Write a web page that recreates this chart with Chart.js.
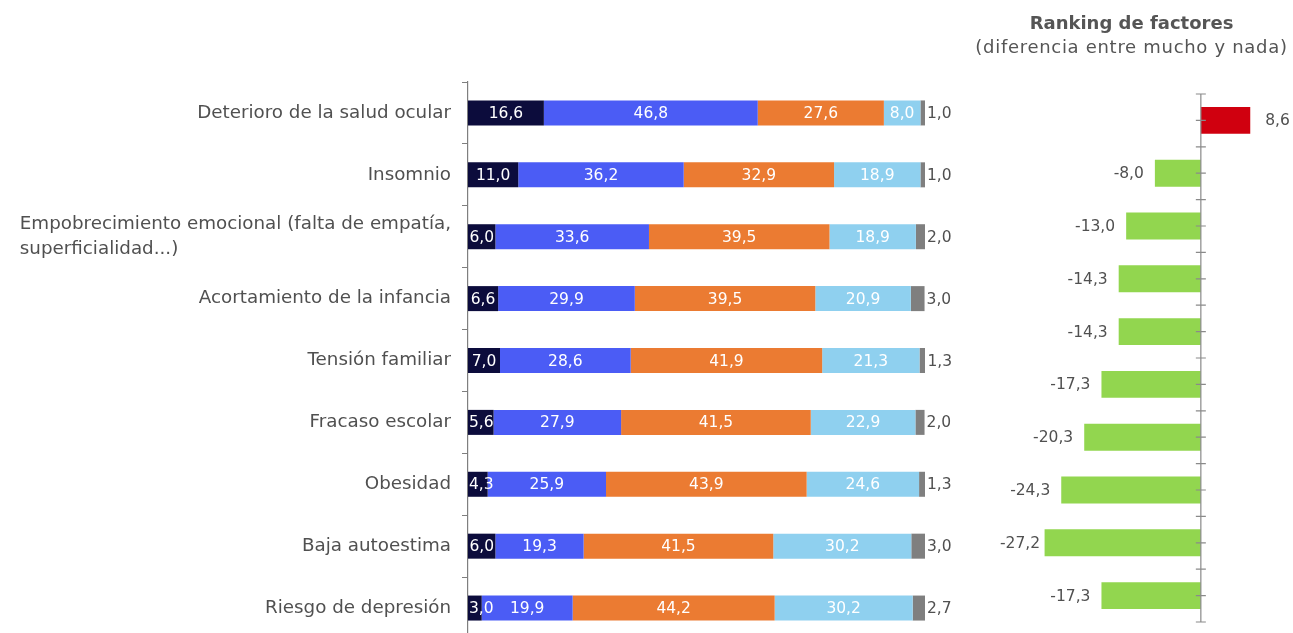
<!DOCTYPE html>
<html>
<head>
<meta charset="utf-8">
<script src="https://cdn.jsdelivr.net/npm/chart.js@4/dist/chart.umd.min.js"></script>
<style>
  html, body { margin: 0; padding: 0; background: #fff; width: 1293px; height: 633px; overflow: hidden; }
  canvas { position: absolute; top: 0; }
  #left { left: 0; }
  #right { left: 970px; }
</style>
</head>
<body>
<canvas id="left" width="960" height="650"></canvas>
<canvas id="right" width="323" height="633"></canvas>
<script>
// Factors (a nested array is a two-line label)
const categories = [
  'Deterioro de la salud ocular',
  'Insomnio',
  ['Empobrecimiento emocional (falta de empatía,', 'superficialidad...)'],
  'Acortamiento de la infancia',
  'Tensión familiar',
  'Fracaso escolar',
  'Obesidad',
  'Baja autoestima',
  'Riesgo de depresión'
];

// Share of answers per factor (%)
const mucho    = [16.6, 11.0, 6.0, 6.6, 7.0, 5.6, 4.3, 6.0, 3.0];
const bastante = [46.8, 36.2, 33.6, 29.9, 28.6, 27.9, 25.9, 19.3, 19.9];
const poco     = [27.6, 32.9, 39.5, 39.5, 41.9, 41.5, 43.9, 41.5, 44.2];
const nada     = [8.0, 18.9, 18.9, 20.9, 21.3, 22.9, 24.6, 30.2, 30.2];
const nsnc     = [1.0, 1.0, 2.0, 3.0, 1.3, 2.0, 1.3, 3.0, 2.7];

// Ranking: difference between "mucho" and "nada"
const rankingLabels = ['1', '2', '3', '4', '5', '6', '7', '8', '9', '10'];
const ranking = [8.6, -8.0, -13.0, -14.3, -14.3, -17.3, -20.3, -24.3, -27.2, -17.3];

const rankingTitle = 'Ranking de factores';
const rankingSubtitle = '(diferencia entre mucho y nada)';

const FONT = '"DejaVu Sans", "Open Sans", sans-serif';
const TEXT = '#505050';
const fmt = v => v.toFixed(1).replace('.', ',');

// Category names right-aligned as a block, lines left-aligned inside it
const categoryLabels = {
  id: 'categoryLabels',
  afterDraw(chart) {
    const ctx = chart.ctx, y = chart.scales.y;
    ctx.save();
    ctx.font = '18.3px ' + FONT;
    ctx.fillStyle = TEXT;
    ctx.textBaseline = 'middle';
    ctx.textAlign = 'left';
    const edge = chart.chartArea.left - 17;
    categories.forEach((c, i) => {
      const lines = Array.isArray(c) ? c : [c];
      const w = Math.max(...lines.map(l => ctx.measureText(l).width));
      const yc = y.getPixelForValue(i);
      const lh = 25;
      lines.forEach((l, k) => ctx.fillText(l, edge - w, yc + (k - (lines.length - 1) / 2) * lh));
    });
    ctx.restore();
  }
};

// Values inside each segment; last segment labelled outside the bar
const segmentLabels = {
  id: 'segmentLabels',
  afterDatasetsDraw(chart) {
    const ctx = chart.ctx;
    const last = chart.data.datasets.length - 1;
    ctx.save();
    ctx.font = '15.5px ' + FONT;
    ctx.textBaseline = 'middle';
    chart.data.datasets.forEach((ds, di) => {
      chart.getDatasetMeta(di).data.forEach((bar, i) => {
        const txt = fmt(ds.data[i]);
        const l = Math.min(bar.x, bar.base), r = Math.max(bar.x, bar.base);
        if (di === last) {
          ctx.fillStyle = TEXT;
          ctx.textAlign = 'left';
          ctx.fillText(txt, r + 2, bar.y + 1);
        } else {
          ctx.fillStyle = '#ffffff';
          ctx.textAlign = 'center';
          const w = ctx.measureText(txt).width;
          const cx = Math.max((l + r) / 2, chart.chartArea.left + w / 2 + 1);
          ctx.fillText(txt, cx, bar.y + 1);
        }
      });
    });
    ctx.restore();
  }
};

new Chart(document.getElementById('left'), {
  type: 'bar',
  data: {
    labels: categories,
    datasets: [
      { label: 'Mucho', data: mucho, backgroundColor: '#0c0c3c' },
      { label: 'Bastante', data: bastante, backgroundColor: '#4b5cf5' },
      { label: 'Poco', data: poco, backgroundColor: '#eb7b32' },
      { label: 'Nada', data: nada, backgroundColor: '#8fd0ef' },
      { label: 'NS/NC', data: nsnc, backgroundColor: '#7f7f7f' }
    ]
  },
  options: {
    indexAxis: 'y',
    responsive: false,
    animation: false,
    datasets: { bar: { barPercentage: 0.404, categoryPercentage: 1, borderWidth: 0 } },
    layout: { padding: { top: 82, bottom: 11, left: 0, right: 35 } },
    plugins: { legend: { display: false }, tooltip: { enabled: false } },
    scales: {
      x: { stacked: true, min: 0, max: 100, display: false },
      y: {
        stacked: true,
        grid: { offset: true, drawOnChartArea: false, tickLength: 6, color: '#7f7f7f', lineWidth: 1 },
        border: { display: true, color: '#7f7f7f', width: 1.2 },
        ticks: { display: false },
        afterFit(scale) { scale.width = 468; }
      }
    }
  },
  plugins: [categoryLabels, segmentLabels]
});

// Two-line heading centred over the ranking canvas
const headings = {
  id: 'headings',
  afterDraw(chart) {
    const ctx = chart.ctx;
    const cx = chart.width / 2;
    ctx.save();
    ctx.fillStyle = '#555555';
    ctx.textAlign = 'center';
    ctx.textBaseline = 'middle';
    ctx.font = 'bold 18px ' + FONT;
    ctx.fillText(rankingTitle, cx, 24);
    ctx.font = '18px ' + FONT;
    if ('letterSpacing' in ctx) ctx.letterSpacing = '0.7px';
    ctx.fillText(rankingSubtitle, cx, 48);
    ctx.restore();
  }
};

// Vertical axis at zero with ticks at row edges and row centres
const rankAxis = {
  id: 'rankAxis',
  afterDatasetsDraw(chart) {
    const ctx = chart.ctx, x = chart.scales.x, y = chart.scales.y;
    const x0 = x.getPixelForValue(0);
    const n = chart.data.labels.length;
    const step = y.getPixelForValue(1) - y.getPixelForValue(0);
    const top = y.getPixelForValue(0) - step / 2;
    ctx.save();
    ctx.strokeStyle = '#8a8a8a';
    ctx.lineWidth = 1.2;
    ctx.beginPath();
    ctx.moveTo(x0, top);
    ctx.lineTo(x0, top + n * step);
    for (let k = 0; k <= 2 * n; k++) {
      const yy = top + k * step / 2;
      ctx.moveTo(x0 - 5, yy);
      ctx.lineTo(x0 + 5, yy);
    }
    ctx.stroke();
    ctx.restore();
  }
};

// Value labels beyond the bar end, kept inside the plot area
const rankLabels = {
  id: 'rankLabels',
  afterDatasetsDraw(chart) {
    const ctx = chart.ctx;
    const ds = chart.data.datasets[0];
    ctx.save();
    ctx.font = '15.5px ' + FONT;
    ctx.fillStyle = TEXT;
    ctx.textBaseline = 'middle';
    chart.getDatasetMeta(0).data.forEach((bar, i) => {
      const v = ds.data[i];
      const txt = fmt(v);
      if (v >= 0) {
        ctx.textAlign = 'left';
        ctx.fillText(txt, bar.x + 15, bar.y + 1);
      } else {
        ctx.textAlign = 'right';
        const w = ctx.measureText(txt).width;
        ctx.fillText(txt, Math.max(bar.x - 11, chart.chartArea.left + w), bar.y + 1);
      }
    });
    ctx.restore();
  }
};

new Chart(document.getElementById('right'), {
  type: 'bar',
  data: {
    labels: rankingLabels,
    datasets: [{
      data: ranking,
      backgroundColor: ranking.map(v => v >= 0 ? '#d0000f' : '#92d64f'),
      borderWidth: 0,
      barPercentage: 0.51,
      categoryPercentage: 1
    }]
  },
  options: {
    indexAxis: 'y',
    responsive: false,
    animation: false,
    layout: { padding: { top: 94, bottom: 11, left: 30, right: 10 } },
    plugins: { legend: { display: false }, tooltip: { enabled: false } },
    scales: {
      x: { display: false, min: -34.96, max: 14.3 },
      y: { display: false }
    }
  },
  plugins: [headings, rankAxis, rankLabels]
});
</script>
</body>
</html>
